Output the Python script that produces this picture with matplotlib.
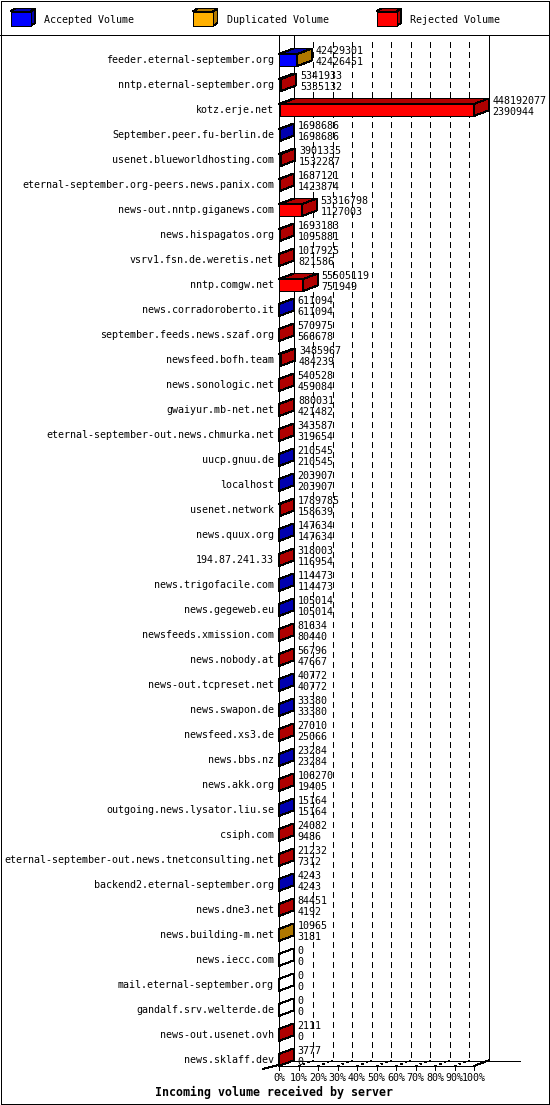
import matplotlib
matplotlib.use("Agg")
import matplotlib.pyplot as plt
from matplotlib.patches import Rectangle, Polygon

# ---------------- data ----------------
servers = [
    "feeder.eternal-september.org", "nntp.eternal-september.org", "kotz.erje.net",
    "September.peer.fu-berlin.de", "usenet.blueworldhosting.com",
    "eternal-september.org-peers.news.panix.com", "news-out.nntp.giganews.com",
    "news.hispagatos.org", "vsrv1.fsn.de.weretis.net", "nntp.comgw.net",
    "news.corradoroberto.it", "september.feeds.news.szaf.org", "newsfeed.bofh.team",
    "news.sonologic.net", "gwaiyur.mb-net.net", "eternal-september-out.news.chmurka.net",
    "uucp.gnuu.de", "localhost", "usenet.network", "news.quux.org", "194.87.241.33",
    "news.trigofacile.com", "news.gegeweb.eu", "newsfeeds.xmission.com", "news.nobody.at",
    "news-out.tcpreset.net", "news.swapon.de", "newsfeed.xs3.de", "news.bbs.nz",
    "news.akk.org", "outgoing.news.lysator.liu.se", "csiph.com",
    "eternal-september-out.news.tnetconsulting.net", "backend2.eternal-september.org",
    "news.dne3.net", "news.building-m.net", "news.iecc.com", "mail.eternal-september.org",
    "gandalf.srv.welterde.de", "news-out.usenet.ovh", "news.sklaff.dev",
]
offered = [
    42429301, 5341933, 448192077, 1698686, 3901335, 1687121, 53316798, 1693183,
    1017925, 55505119, 611094, 570975, 3485967, 540528, 880031, 343587, 210545,
    203907, 1789785, 147634, 318003, 114473, 105014, 81634, 56796, 40772, 33380,
    27010, 23284, 106270, 15164, 24082, 21232, 4243, 84451, 10965, 0, 0, 0, 2111, 3777,
]
accepted = [
    42426451, 5335132, 2390944, 1698686, 1532287, 1423874, 1127003, 1095881,
    821586, 751949, 611094, 566678, 484239, 459084, 421482, 319654, 210545,
    203907, 158639, 147634, 116954, 114473, 105014, 80440, 47667, 40772, 33380,
    25066, 23284, 19405, 15164, 9486, 7312, 4243, 4192, 3181, 0, 0, 0, 0, 0,
]
duplicated = [
    2850, 0, 0, 0, 0, 0, 0, 0, 0, 0, 0, 0, 0, 0, 0, 0, 0, 0, 0, 0, 0, 0, 0, 0,
    0, 0, 0, 0, 0, 0, 0, 0, 0, 0, 0, 7784, 0, 0, 0, 0, 0,
]
rejected = [o - a - d for o, a, d in zip(offered, accepted, duplicated)]

series_names = ["Accepted Volume", "Duplicated Volume", "Rejected Volume"]
front_colors = ["#0000ff", "#ffb000", "#ff0000"]
dark_colors = ["#0000b0", "#b07800", "#b00000"]
tick_values = [0, 10, 20, 30, 40, 50, 60, 70, 80, 90, 100]
tick_labels = ["0%", "10%", "20%", "30%", "40%", "50%", "60%", "70%", "80%", "90%", "100%"]
title = "Incoming volume received by server"

# ---------------- figure ----------------
W, H = 550, 1105
fig = plt.figure(figsize=(W / 100, H / 100), dpi=100)
FONT = "DejaVu Sans Mono"
FS = 7.2
LW = 0.7
AA = False

deco = fig.add_axes([0, 0, 1, 1])
deco.set_xlim(0, W)
deco.set_ylim(H, 0)
deco.axis("off")
deco.add_patch(Rectangle((0.5, 0.5), W - 1.5, H - 1.5, fill=False, lw=LW, ec="black", antialiased=AA))
deco.plot([0, W], [34.5, 34.5], color="black", lw=LW, antialiased=AA)

# legend cubes
leg_x = [10.5, 193, 376.5]
for lx, name, fc, dc in zip(leg_x, series_names, front_colors, dark_colors):
    fw, fh, ldx, ldy, ly = 20, 14.5, 4.5, 3, 11.5
    deco.add_patch(Polygon([(lx, ly), (lx + fw, ly), (lx + fw + ldx, ly - ldy), (lx + ldx, ly - ldy)],
                           closed=True, fc=dc, ec="black", lw=LW, antialiased=AA))
    deco.add_patch(Polygon([(lx + fw, ly), (lx + fw + ldx, ly - ldy), (lx + fw + ldx, ly + fh - ldy), (lx + fw, ly + fh)],
                           closed=True, fc=dc, ec="black", lw=LW, antialiased=AA))
    deco.add_patch(Rectangle((lx, ly), fw, fh, fc=fc, ec="black", lw=LW, antialiased=AA))
    deco.text(lx + 34, 20, name, family=FONT, fontsize=FS, ha="left", va="center")

# main chart axes
x0, x1 = 279, 474
ytop, yfloor = 36, 1066
row0, pitch = 60, 25
ax = fig.add_axes([x0 / W, 1 - yfloor / H, (x1 - x0) / W, (yfloor - ytop) / H])
ax.set_xlim(0, 100)
ax.set_ylim((yfloor - row0) / pitch, (ytop - row0) / pitch)
ax.axis("off")
PX = 100 / (x1 - x0)
PY = 1 / pitch
DX = 14.5 * PX
DY = -5.5 * PY
top_row = (ytop - row0) / pitch
yf = (yfloor - row0) / pitch
yb = yf + DY

# walls and grid
ax.plot([0, 0], [top_row, yf], color="black", lw=LW, clip_on=False, zorder=1, antialiased=AA)
for v in tick_values:
    xb = v + DX
    if v in (0, 100):
        ax.plot([xb, xb], [top_row, yb], color="black", lw=LW, clip_on=False, zorder=1, antialiased=AA)
    else:
        ax.plot([xb, xb], [top_row + 6 * PY, yb], color="black", lw=LW,
                linestyle=(0, (6, 5)), clip_on=False, zorder=1, antialiased=AA)
        ax.plot([v, xb], [yf, yb], color="black", lw=LW, linestyle=(0, (2, 4)),
                clip_on=False, zorder=1, antialiased=AA)
# floor
ax.plot([0, 100], [yf, yf], color="black", lw=LW, clip_on=False, zorder=1, antialiased=AA)
ax.plot([100, 100 + DX], [yf, yb], color="black", lw=LW, clip_on=False, zorder=1, antialiased=AA)
ax.plot([DX, (520 - x0) * PX], [yb, yb], color="black", lw=LW, clip_on=False, zorder=1, antialiased=AA)
ax.plot([-16 * PX, 0], [yf + 3 * PY, yf - 1 * PY], color="black", lw=LW, clip_on=False, zorder=1, antialiased=AA)
for v, lab in zip(tick_values, tick_labels):
    ax.plot([v, v], [yf, yf + 4 * PY], color="black", lw=LW, clip_on=False, zorder=1, antialiased=AA)
    ax.text(v, yf + 12 * PY, lab, family=FONT, fontsize=FS, ha="center", va="center")

# bars
vmax = max(offered)
hh = 6 * PY
for i, name in enumerate(servers):
    c = i
    top, bot = c - hh, c + hh
    vals = [accepted[i], duplicated[i], rejected[i]]
    left = 0.0
    side_color = "white"
    for v, fc, dc in zip(vals, front_colors, dark_colors):
        if v <= 0:
            continue
        w = v / vmax * 100
        ax.add_patch(Polygon([(left, top), (left + w, top), (left + w + DX, top + DY), (left + DX, top + DY)],
                             closed=True, fc=dc, ec="black", lw=LW, clip_on=False, zorder=3, antialiased=AA))
        ax.add_patch(Rectangle((left, top), w, bot - top, fc=fc, ec="black", lw=LW,
                               clip_on=False, zorder=3, antialiased=AA))
        left += w
        side_color = dc
    e = left
    ax.add_patch(Polygon([(e, top), (e + DX, top + DY), (e + DX, bot + DY), (e, bot)],
                         closed=True, fc=side_color, ec="black", lw=LW, clip_on=False, zorder=4, antialiased=AA))
    tx = e + DX + 4 * PX
    ax.text(tx, c - 9 * PY, str(offered[i]), family=FONT, fontsize=FS, ha="left", va="center", zorder=5)
    ax.text(tx, c + 2 * PY, str(accepted[i]), family=FONT, fontsize=FS, ha="left", va="center", zorder=5)
    ax.text(-5 * PX, c, name, family=FONT, fontsize=FS, ha="right", va="center")

deco.text(274, 1092, title, family=FONT, fontsize=8.4, fontweight="bold", ha="center", va="center")

fig.savefig("out.png", dpi=100)
